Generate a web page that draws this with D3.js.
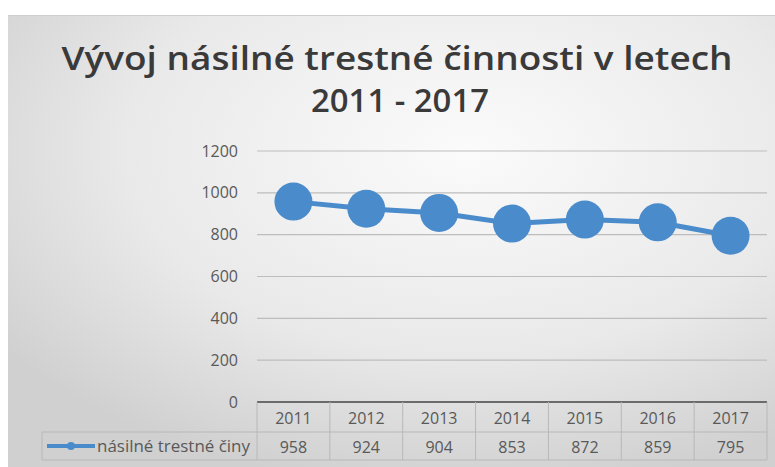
<!DOCTYPE html>
<html><head><meta charset="utf-8">
<script src="https://cdn.jsdelivr.net/npm/d3@7"></script>
<style>body{margin:0;background:#fff}svg{display:block}</style>
</head><body>
<script>
const years = ["2011","2012","2013","2014","2015","2016","2017"];
const values = [958, 924, 904, 853, 872, 859, 795];
const yTicks = [0, 200, 400, 600, 800, 1000, 1200];
const seriesName = "násilné trestné činy";
const titleLines = ["Vývoj násilné trestné činnosti v letech", "2011 - 2017"];

const W = 775, H = 467;
const svg = d3.select("body").append("svg").attr("width", W).attr("height", H);
const defs = svg.append("defs");
const grad = defs.append("radialGradient").attr("id","bg")
  .attr("cx","0.6").attr("cy","0.3").attr("r","0.75");
grad.append("stop").attr("offset","0").attr("stop-color","#fbfbfb");
grad.append("stop").attr("offset","0.6").attr("stop-color","#e9e9e9");
grad.append("stop").attr("offset","1").attr("stop-color","#d0d0d0");

svg.append("rect").attr("x",8).attr("y",15).attr("width",W-8).attr("height",H-15).attr("fill","url(#bg)");
svg.append("line").attr("x1",8).attr("x2",W).attr("y1",15.5).attr("y2",15.5).attr("stroke","#cfcfcf");

const ff = "'Open Sans', sans-serif";
const txt = "#595959";
// title
svg.append("text").attr("x",397).attr("y",70).attr("text-anchor","middle")
  .attr("font-family",ff).attr("font-weight",600).attr("font-size",32)
  .attr("textLength",671).attr("lengthAdjust","spacingAndGlyphs")
  .attr("fill","#3a3a3a").text(titleLines[0]);
svg.append("text").attr("x",400).attr("y",112).attr("text-anchor","middle")
  .attr("font-family",ff).attr("font-weight",600).attr("font-size",32)
  .attr("textLength",178).attr("lengthAdjust","spacingAndGlyphs")
  .attr("fill","#3a3a3a").text(titleLines[1]);

const x0 = 257, x1 = 767;
const x = d3.scaleBand().domain(years).range([x0, x1]).padding(0);
const y = d3.scaleLinear().domain([0, 1200]).range([402, 151]);

// gridlines
svg.append("g").selectAll("line").data(yTicks.filter(d => d > 0)).join("line")
  .attr("x1", x0).attr("x2", x1).attr("y1", d => y(d)).attr("y2", d => y(d))
  .attr("stroke","#bdbdbd").attr("stroke-width",1.2);

// y axis labels
const yAxis = d3.axisLeft(y).tickValues(yTicks).tickFormat(d3.format("d")).tickSize(0).tickPadding(0);
const ya = svg.append("g").attr("transform",`translate(${x0-19},0)`).call(yAxis);
ya.select(".domain").remove();
ya.selectAll("text").attr("font-family",ff).attr("font-size",16).attr("fill",txt).attr("dy","0.32em");

// table
const tbl = svg.append("g");
const stroke = "#b8b8b8";
const rowTop = 402, rowMid = 432, rowBot = 460;
tbl.append("line").attr("x1",x0).attr("x2",x1).attr("y1",rowTop).attr("y2",rowTop).attr("stroke","#6b6b6b").attr("stroke-width",2);
tbl.append("line").attr("x1",42).attr("x2",x1).attr("y1",rowMid).attr("y2",rowMid).attr("stroke",stroke);
tbl.append("line").attr("x1",42).attr("x2",x1).attr("y1",rowBot).attr("y2",rowBot).attr("stroke",stroke);
tbl.append("line").attr("x1",42).attr("x2",42).attr("y1",rowMid).attr("y2",rowBot).attr("stroke",stroke);
const bounds = years.map(d => x(d)).concat([x1]);
tbl.selectAll("line.v").data(bounds).join("line").attr("class","v")
  .attr("x1", d => d).attr("x2", d => d).attr("y1", rowTop).attr("y2", rowBot).attr("stroke", stroke);
tbl.selectAll("text.yr").data(years).join("text").attr("class","yr")
  .attr("x", d => x(d) + x.bandwidth()/2).attr("y", 423.5).attr("text-anchor","middle")
  .attr("font-family",ff).attr("font-size",16).attr("fill",txt).text(d => d);
tbl.selectAll("text.val").data(values).join("text").attr("class","val")
  .attr("x", (d,i) => x(years[i]) + x.bandwidth()/2).attr("y", 452.5).attr("text-anchor","middle")
  .attr("font-family",ff).attr("font-size",16).attr("fill",txt).text(d => d);

// legend key
const color = "#4a8bcb";
tbl.append("line").attr("x1",47).attr("x2",95).attr("y1",446).attr("y2",446).attr("stroke",color).attr("stroke-width",4);
tbl.append("circle").attr("cx",71).attr("cy",446).attr("r",4).attr("fill",color);
tbl.append("text").attr("x",97).attr("y",451.5).attr("font-family",ff)
  .attr("font-size",15.5).attr("textLength",153).attr("lengthAdjust","spacingAndGlyphs")
  .attr("fill",txt).text(seriesName);

// line + markers
const cx = d => x(d) + x.bandwidth()/2;
const line = d3.line().x((d,i) => cx(years[i])).y(d => y(d));
svg.append("path").datum(values).attr("d", line).attr("fill","none").attr("stroke",color).attr("stroke-width",5);
svg.selectAll("circle.pt").data(values).join("circle").attr("class","pt")
  .attr("cx", (d,i) => cx(years[i])).attr("cy", d => y(d)).attr("r", 19).attr("fill", color);
</script>
</body></html>
